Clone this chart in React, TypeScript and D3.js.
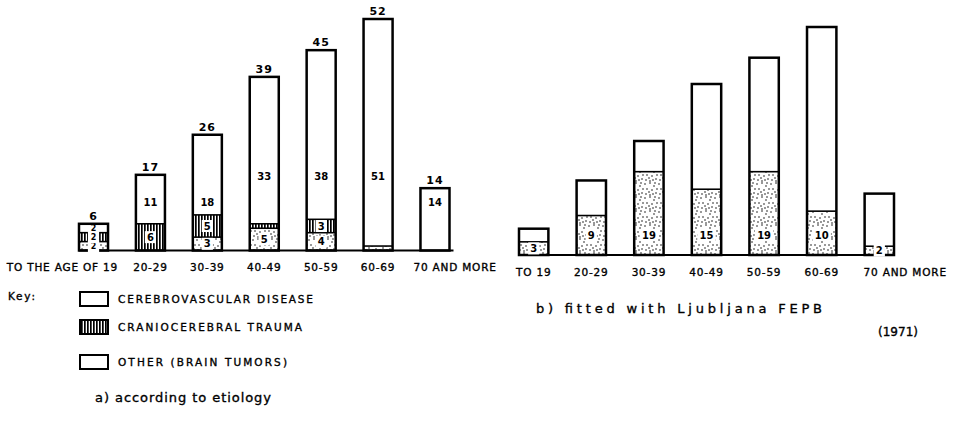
import React from 'react';
import * as d3 from 'd3';

// ---------- data: chart a) according to etiology ----------
const categoriesA = ['TO THE AGE OF 19', '20-29', '30-39', '40-49', '50-59', '60-69', '70 AND MORE'];
const otherA = [2, 0, 3, 5, 4, 1, 0];        // other (brain tumors) - dotted
const traumaA = [2, 6, 5, 1, 3, 0, 0];       // craniocerebral trauma - striped
const cerebroA = [2, 11, 18, 33, 38, 51, 14]; // cerebrovascular disease - blank
const totalsA = [6, 17, 26, 39, 45, 52, 14];

// ---------- data: chart b) fitted with Ljubljana FEPB ----------
const categoriesB = ['TO 19', '20-29', '30-39', '40-49', '50-59', '60-69', '70 AND MORE'];
const fittedB = [3, 9, 19, 15, 19, 10, 2];
const restB = [3, 8, 7, 24, 26, 42, 12];

const legendItems = ['CEREBROVASCULAR DISEASE', 'CRANIOCEREBRAL TRAUMA', 'OTHER (BRAIN TUMORS)'];

const FONT = 'DejaVu Sans, Liberation Sans, sans-serif';

export default function App() {
  const W = 953, H = 425;

  const xA = d3.scaleBand<string>().domain(categoriesA).range([79, 449.5]).paddingInner(0.49);
  const yA = d3.scaleLinear().domain([0, 52]).range([250.5, 19]);
  const xB = d3.scaleBand<string>().domain(categoriesB).range([519, 894]).paddingInner(0.49);
  const yB = d3.scaleLinear().domain([0, 52]).range([255, 27]);

  const rowsA = categoriesA.map((c, i) => ({ cat: c, other: otherA[i], trauma: traumaA[i], cerebro: cerebroA[i] }));
  const keysA = ['other', 'trauma', 'cerebro'];
  const stackA = d3.stack<any>().keys(keysA)(rowsA);
  const fillA: Record<string, string> = { other: 'url(#dots)', trauma: 'url(#stripes)', cerebro: '#fff' };

  const rowsB = categoriesB.map((c, i) => ({ cat: c, fitted: fittedB[i], rest: restB[i] }));
  const stackB = d3.stack<any>().keys(['fitted', 'rest'])(rowsB);

  // stipple positions for the dotted pattern (style only)
  const dotPts = [[1, 2], [6, 1], [10, 4], [3, 7], [8, 8], [12, 11], [2, 12], [6, 13], [11, 1], [13, 7], [5, 10], [9, 12]];

  const bw = xA.bandwidth();
  const bwB = xB.bandwidth();

  const numLabel = (x: number, y: number, t: string, bg: boolean, key: string, fs = 10) => (
    <g key={key}>
      {bg && <rect x={x - (t.length * 3.6 + 2)} y={y - 6} width={t.length * 7.2 + 4} height={12} fill="#fff" />}
      <text x={x} y={y} dy="0.36em" textAnchor="middle" fontSize={fs} fontWeight="bold" fontFamily={FONT}>{t}</text>
    </g>
  );

  const ink = { stroke: '#000', strokeWidth: 0.35 };

  return (
    <svg width={W} height={H} viewBox={`0 0 ${W} ${H}`} style={{ position: 'absolute', left: 0, top: 0, background: '#fff' }}>
      <defs>
        <pattern id="stripes" patternUnits="userSpaceOnUse" width={3} height={4}>
          <rect x={0} y={0} width={3} height={4} fill="#fff" />
          <rect x={0} y={0} width={1.7} height={4} fill="#000" />
        </pattern>
        <pattern id="dots" patternUnits="userSpaceOnUse" width={14} height={14}>
          <rect x={0} y={0} width={14} height={14} fill="#fff" />
          {dotPts.map(([px, py], i) => <circle key={i} cx={px} cy={py} r={0.75} fill="#000" />)}
        </pattern>
      </defs>

      {/* ---------------- chart a ---------------- */}
      <g>
        {stackA.map(layer => (
          <g key={layer.key}>
            {layer.map((d, i) => {
              const v = d[1] - d[0];
              if (v <= 0) return null;
              const x = xA(categoriesA[i])!;
              return <rect key={i} x={x} y={yA(d[1])} width={bw} height={yA(d[0]) - yA(d[1])} fill={fillA[layer.key]} />;
            })}
          </g>
        ))}
        {stackA.slice(0, 2).map(layer => layer.map((d, i) => {
          const v = d[1] - d[0];
          if (v <= 0 || d[1] >= totalsA[i]) return null;
          const x = xA(categoriesA[i])!;
          return <line key={layer.key + i} x1={x} x2={x + bw} y1={yA(d[1])} y2={yA(d[1])} stroke="#000" strokeWidth={1.6} />;
        }))}
        {categoriesA.map((c, i) => (
          <rect key={c} x={xA(c)!} y={yA(totalsA[i])} width={bw} height={yA(0) - yA(totalsA[i])} fill="none" stroke="#000" strokeWidth={2.5} />
        ))}
        <line x1={xA(categoriesA[0])!} x2={xA(categoriesA[6])! + bw + 4} y1={yA(0)} y2={yA(0)} stroke="#000" strokeWidth={2.2} />
        {stackA.map(layer => layer.map((d, i) => {
          const v = d[1] - d[0];
          const x = xA(categoriesA[i])! + bw / 2;
          if (layer.key === 'cerebro') {
            if (v <= 0) return null;
            const y = v < 4 ? (yA(d[0]) + yA(d[1])) / 2 : yA(totalsA[i] > 30 ? 16.7 : 10.8);
            return numLabel(x, y, String(v), false, layer.key + i, v < 4 ? 8 : 10);
          }
          if (v < 2) return null;
          const y = (yA(d[0]) + yA(d[1])) / 2;
          return numLabel(x, y, String(v), true, layer.key + i, v < 3 ? 8 : 10);
        }))}
        {categoriesA.map((c, i) => (
          <text key={'t' + c} x={xA(c)! + bw / 2} y={yA(totalsA[i]) - 4} textAnchor="middle" fontSize={11} fontWeight="bold" fontFamily={FONT} letterSpacing={1}>{totalsA[i]}</text>
        ))}
        {categoriesA.map((c, i) => {
          const x = xA(c)!;
          const anchor = i === 0 ? 'end' : i === categoriesA.length - 1 ? 'start' : 'middle';
          const tx = i === 0 ? x + bw + 10 : i === categoriesA.length - 1 ? x - 7 : x + bw / 2;
          return <text key={'l' + c} x={tx} y={271} textAnchor={anchor} fontSize={10.5} fontFamily={FONT} letterSpacing={0.8} {...ink}>{c}</text>;
        })}
      </g>

      {/* ---------------- legend ---------------- */}
      <g fontFamily={FONT}>
        <text x={8} y={300} fontSize={10.5} textLength={27} {...ink}>Key:</text>
        {legendItems.map((t, i) => {
          const y0 = [292, 320, 355][i];
          return (
            <g key={t}>
              <rect x={80} y={y0} width={28} height={14} fill={i === 1 ? 'url(#stripes)' : '#fff'} stroke="#000" strokeWidth={2} />
              <text x={118} y={y0 + 11} fontSize={10.5} textLength={[195, 184, 169][i]} lengthAdjust="spacing" {...ink}>{t}</text>
            </g>
          );
        })}
        <text x={95} y={402} fontSize={13} textLength={176} lengthAdjust="spacing" {...ink}>a) according to etiology</text>
      </g>

      {/* ---------------- chart b ---------------- */}
      <g>
        {stackB.map(layer => layer.map((d, i) => {
          const x = xB(categoriesB[i])!;
          return <rect key={layer.key + i} x={x} y={yB(d[1])} width={bwB} height={yB(d[0]) - yB(d[1])} fill={layer.key === 'fitted' ? 'url(#dots)' : '#fff'} />;
        }))}
        {stackB[0].map((d, i) => {
          const x = xB(categoriesB[i])!;
          return <line key={'dv' + i} x1={x} x2={x + bwB} y1={yB(d[1])} y2={yB(d[1])} stroke="#000" strokeWidth={1.6} />;
        })}
        {stackB[1].map((d, i) => {
          const x = xB(categoriesB[i])!;
          return <rect key={'ob' + i} x={x} y={yB(d[1])} width={bwB} height={yB(0) - yB(d[1])} fill="none" stroke="#000" strokeWidth={2.5} />;
        })}
        <line x1={xB(categoriesB[0])!} x2={xB(categoriesB[6])! + bwB} y1={yB(0)} y2={yB(0)} stroke="#000" strokeWidth={2.2} />
        {stackB[0].map((d, i) => {
          const x = xB(categoriesB[i])! + bwB / 2;
          const y = Math.max((yB(d[0]) + yB(d[1])) / 2, yB(0) - 20);
          return numLabel(x, y, String(fittedB[i]), true, 'fb' + i, 10);
        })}
        {categoriesB.map((c, i) => {
          const x = xB(c)!;
          const last = i === categoriesB.length - 1;
          return <text key={'lb' + c} x={last ? x - 1 : x + bwB / 2} y={276} textAnchor={last ? 'start' : 'middle'} fontSize={10.5} fontFamily={FONT} letterSpacing={0.8} {...ink}>{c}</text>;
        })}
        <text x={536} y={313} fontSize={13} fontFamily={FONT} textLength={286} lengthAdjust="spacing" {...ink}>b) fitted with Ljubljana FEPB</text>
        <text x={878} y={336} fontSize={12} fontFamily={FONT} textLength={40} lengthAdjust="spacing" {...ink}>(1971)</text>
      </g>
    </svg>
  );
}
